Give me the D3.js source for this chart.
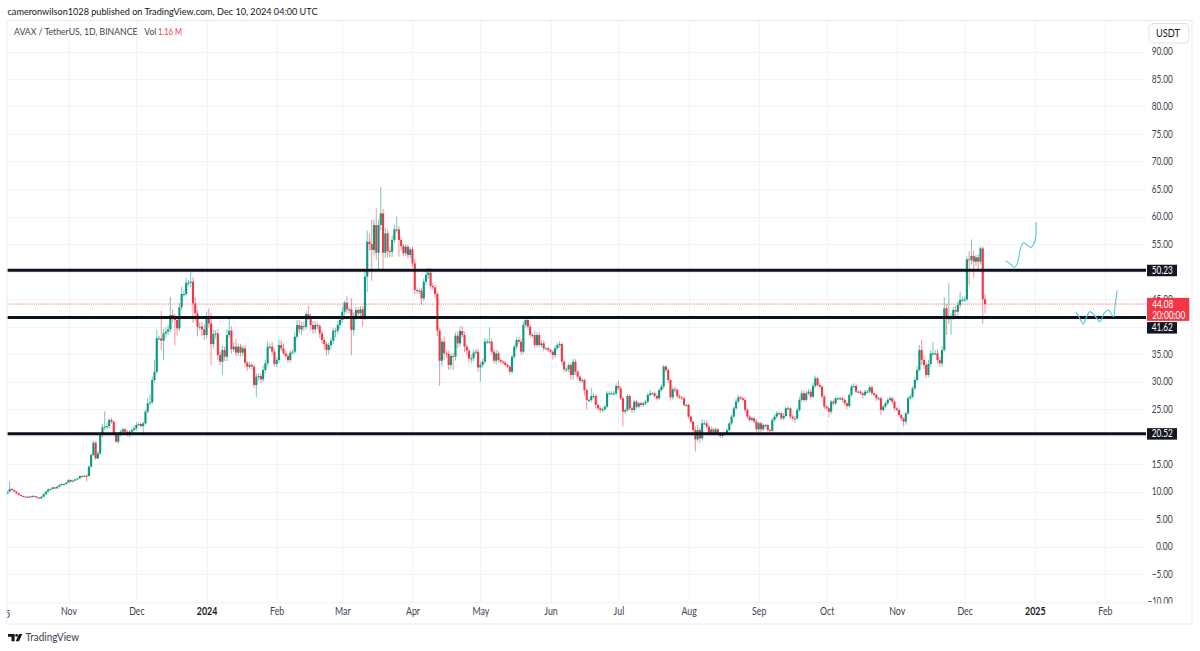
<!DOCTYPE html>
<html><head><meta charset="utf-8">
<script src="https://cdn.jsdelivr.net/npm/d3@7"></script>
<style>html,body{margin:0;padding:0;background:#fff}svg{display:block}text{font-family:"Lato","Open Sans",sans-serif}</style>
</head><body><svg id="c" width="1200" height="651"></svg>
<script>
const startDate = "2023-10-05";
const closes = [
9.97,10.45,10.27,9.97,9.66,9.36,9.18,9.06,9.0,9.06,
9.0,9.18,9.06,8.87,8.75,9.06,9.54,9.97,10.39,10.45,
10.75,10.57,10.87,11.18,11.36,11.36,11.6,12.09,11.79,11.97,
12.21,12.39,12.81,12.69,12.87,12.81,14.51,16.63,18.87,16.03,
16.93,20.27,21.66,21.78,21.9,23.0,22.69,20.57,19.06,20.39,
20.87,21.3,20.87,20.45,20.87,21.18,21.48,22.09,22.27,21.9,
22.39,24.51,26.03,26.21,30.27,31.78,37.84,37.84,37.42,38.75,
39.06,39.48,42.09,41.48,41.18,39.66,43.48,45.9,45.9,47.97,
47.97,48.15,44.21,42.39,39.97,39.97,39.48,38.45,41.9,40.57,
36.81,38.63,38.75,34.81,33.6,35.72,34.51,38.45,39.24,35.85,
36.33,35.24,36.33,35.24,36.03,33.42,32.69,33.0,32.69,29.36,
30.87,30.99,30.39,32.09,33.3,36.33,36.33,35.42,33.18,33.9,
36.63,36.03,35.12,34.63,33.9,35.24,35.42,38.15,40.27,39.48,
40.09,39.97,42.27,41.78,40.27,39.48,40.27,40.09,38.75,37.54,
36.81,35.72,36.63,37.42,39.24,39.24,40.27,41.18,42.69,44.33,
43.12,43.12,39.36,41.78,43.0,42.39,43.12,41.78,49.06,55.42,
55.0,53.9,58.45,53.42,58.45,60.57,53.42,56.93,53.72,53.6,
55.72,57.66,57.66,55.72,54.63,53.3,54.51,53.0,54.03,51.48,
46.63,46.51,46.51,45.12,48.15,49.36,49.78,47.36,47.12,45.9,
39.24,33.78,37.24,35.12,35.0,33.0,34.63,34.51,38.33,36.93,
39.18,38.45,36.33,35.6,34.21,34.21,35.24,35.42,32.57,33.0,
33.6,37.24,37.24,37.24,35.42,33.78,35.12,33.9,33.6,33.42,
33.0,32.69,31.78,34.51,36.33,37.54,37.24,35.42,40.27,41.18,
39.97,38.45,38.45,36.63,38.45,36.63,36.93,36.03,36.03,35.72,
35.42,34.81,36.03,36.63,36.81,33.6,32.21,32.21,33.0,31.18,
33.6,31.79,30.88,30.15,30.27,28.45,26.64,26.64,27.36,27.36,
25.73,25.12,24.82,24.94,25.42,27.85,27.85,27.85,27.85,29.18,
28.76,26.94,24.52,24.82,27.36,25.12,24.82,26.33,25.42,26.03,
25.73,26.03,26.33,27.55,27.85,27.85,27.36,26.94,28.45,29.06,
32.7,32.09,30.27,27.12,28.58,28.45,27.36,27.12,26.94,25.73,
25.73,23.61,22.7,21.18,19.48,21.18,19.67,22.39,22.39,21.79,
20.58,21.3,20.58,21.3,20.58,20.09,20.45,20.58,21.18,22.39,
23.61,25.12,26.33,27.12,26.94,26.64,24.82,23.61,23.0,23.3,
22.7,21.3,22.39,21.3,22.09,22.09,21.18,21.06,23.0,23.61,
24.21,24.21,23.3,23.73,25.12,25.12,23.61,23.3,23.3,24.82,
26.64,27.85,26.64,27.85,28.15,27.24,29.18,30.58,29.36,29.06,
27.24,25.42,25.12,24.52,26.33,26.03,26.94,26.94,26.94,26.64,
26.03,25.55,27.55,29.06,29.18,28.15,28.15,27.85,27.55,28.15,
28.15,28.94,27.85,27.55,26.94,26.94,24.82,25.43,26.03,26.64,
26.94,26.33,25.12,24.82,23.91,23.3,22.7,24.21,26.94,27.24,
28.76,30.28,32.09,35.73,33.91,33.0,31.18,33.18,35.12,35.12,
35.12,33.91,33.3,35.73,43.3,41.48,41.48,41.79,43.0,42.7,
43.91,44.82,44.82,44.94,52.21,52.09,52.82,51.79,52.57,51.79,
54.2,44.94,44.08];
const firstOpen = 9.6;
const upperWick = [
.2,1.35,.2,.1,.1,.1,.1,.1,.1,.1,
.1,.2,.1,.1,.1,.1,.1,.1,.2,.1,
.1,.1,.1,.2,.1,.1,.1,.2,.1,.2,
.1,.1,.1,.2,.1,.2,.2,.3,.4,.3,
.4,.5,.6,2.8,.6,.3,.4,.2,.3,.3,
.3,.3,.2,.3,.3,.4,.5,.5,.3,.3,
.3,.4,1.0,1.5,.6,2.2,1.6,.5,5.0,.8,
.8,.8,3.3,1.0,.8,.6,.8,1.3,.7,.9,
.5,1.85,.8,1.1,.6,.8,.8,.9,.8,1.4,
2.0,.8,.6,.8,.6,.8,.6,1.0,2.6,.8,
.8,1.4,.6,.5,.5,.5,.3,.6,.4,.4,
.6,.5,.5,.8,.7,1.0,.6,.9,.6,.5,
1.0,.8,.9,.5,.4,.4,.4,.8,.9,.9,
.8,.8,.5,1.5,.6,.7,.7,.5,.4,.6,
.5,.4,.4,.5,.6,.5,.8,.8,.9,.4,
1.2,.5,2.0,.8,.6,.5,.6,.6,1.2,2.0,
1.5,4.4,1.0,3.05,1.0,4.8,.8,1.0,.6,.8,
.8,.8,2.3,.6,.6,.4,.5,.4,.4,.4,
.8,.5,.4,.5,.6,.6,.9,.8,.5,.5,
.5,.5,.6,1.0,.6,.6,.6,.6,.6,.7,
.8,.9,.6,.4,.4,.6,.5,.5,.5,.6,
.5,.6,.5,2.6,.6,.5,.7,.4,.4,.3,
.3,.3,.3,.3,.4,.5,.5,.5,.6,.6,
.5,.4,.4,.8,.5,.5,.5,.5,.3,.3,
.3,.3,.4,.4,.5,.3,.4,.4,.4,.4,
.5,.5,.3,.3,.4,.3,.3,.3,1.5,.6,
.3,.3,.3,.3,.4,.4,.4,.4,.4,.5,
1.0,.3,.3,.3,.4,.3,.3,.4,.3,.3,
.3,.3,.3,.4,.6,.3,.3,.4,.4,.4,
.3,.3,.3,.3,.5,.5,.3,.3,.2,.3,
.2,.2,.2,.2,.6,.9,.5,.8,.5,.5,
.3,.5,.3,.4,.2,.2,.2,.2,.3,.3,
.4,.4,.5,.5,.3,.3,.4,.3,.3,.3,
.3,.4,.3,.3,.3,.2,.2,.3,.4,.4,
.4,.3,.3,.5,.3,.4,.3,.3,.4,.4,
.6,.6,.5,.4,.5,.5,.6,.5,.3,.3,
.3,.3,.3,.3,.3,.4,.3,.3,.3,.3,
.3,.2,.4,.4,.5,.3,.3,.3,.3,.3,
.3,.4,.3,.3,.3,.3,.3,.3,.3,.4,
.4,.3,.2,.3,.3,.2,.2,.3,.4,.4,
.4,.5,.6,.9,1.9,.8,.6,.7,.6,2.1,
.6,.8,.6,.7,2.0,.8,6.4,.6,.6,.7,
.7,1.5,.6,.5,.5,1.5,3.0,1.0,.4,.6,
.3,.3,1.0];
const lowerWick = [
.1,.1,.1,.1,.1,.1,.1,.1,.1,.1,
.1,.1,.1,.1,.1,.1,.1,.1,.1,.2,
.1,.1,.1,.1,.1,.2,.2,.1,.1,.1,
.1,.1,.1,.1,.1,1.0,.1,.2,.2,.3,
.2,.3,.5,.5,.4,.5,.3,.4,.2,.4,
.3,.3,.5,.4,.6,.2,.2,.3,.2,.3,
1.3,.2,.3,.4,.3,.5,.3,.3,1.7,3.5,
.8,.6,.5,.8,4.6,1.3,.5,.5,.5,.4,
.6,.8,3.6,1.4,1.8,.7,1.2,.9,.6,.8,
3.8,.8,.8,.9,.6,2.4,.8,.8,.5,.8,
.5,.6,.5,.7,.6,.7,.8,.4,.5,.5,
2.2,.7,.6,.5,.6,.4,.5,.6,.5,.6,
.5,.5,.4,.4,.5,.4,.3,.4,.5,.7,
1.0,.8,.5,.6,1.0,.8,.7,.6,.8,.7,
1.0,1.0,.8,.8,.6,1.2,.6,.6,.5,.7,
.8,.8,4.6,1.0,.6,.6,.6,1.8,.6,2.8,
1.2,5.6,1.0,1.3,3.3,1.0,3.0,1.0,1.2,1.0,
1.0,.5,.6,3.0,.8,.5,.5,.6,.5,.6,
.8,.5,.6,1.2,.5,.6,.7,.6,.5,.8,
1.0,4.6,1.0,1.2,.8,.9,.8,2.4,.7,.9,
.6,.5,1.0,.8,.7,.9,.5,.4,.8,2.6,
.5,.4,.4,.5,.5,.5,.7,.4,.4,.3,
.3,.3,.5,.4,.4,.5,.4,.6,.4,.4,
.5,.5,.5,.5,.4,.4,.4,.4,.3,.4,
.4,.8,.5,.4,.5,.7,.5,.5,.6,.9,
.8,.6,.5,.4,.4,1.0,1.7,.4,.4,.5,
.7,.4,.5,.4,.3,.3,.3,.3,.4,.3,
.3,.3,2.7,.5,.4,.4,.5,.4,.3,.3,
.3,.3,.3,.3,.3,.3,.3,.4,.3,.3,
.4,.4,.5,.6,.4,.4,.5,.3,.3,.3,
.3,.4,.4,.6,2.2,.4,.9,.4,.3,.4,
.3,.3,.3,.3,.4,.3,.4,.3,.2,.2,
.3,.2,.2,.2,.3,.3,.5,.4,.4,.3,
.3,.4,.5,.5,.3,.5,.3,.7,.3,.3,
.3,.3,.3,.3,.3,.3,.4,.5,.8,.3,
.3,.3,.4,.3,.3,.5,.3,.3,.3,.3,
.3,.5,.4,1.0,.5,.4,.3,.3,.3,.4,
.4,.6,.3,.3,.3,.3,.3,.3,.7,.3,
.3,.3,.4,.3,.5,.4,.9,.3,.3,.3,
.3,.4,.4,.3,.3,.5,.9,.6,.3,.3,
.3,.3,.3,.3,.9,.7,.6,.4,.5,.4,
.4,.7,.6,.6,.3,3.0,1.0,3.0,.6,1.2,
.8,.5,.3,.4,.3,4.6,.8,3.0,.8,1.8,
.5,4.4,1.7];
const priceTicks = [90,85,80,75,70,65,60,55,50,45,40,35,30,25,20,15,10,5,0,-5,-10];
const hiddenPriceLabels = [50,40,20]; // covered by the level tags in the reference
const timeTickDates = ["2023-11-01","2023-12-01","2024-01-01","2024-02-01","2024-03-01","2024-04-01","2024-05-01","2024-06-01","2024-07-01","2024-08-01","2024-09-01","2024-10-01","2024-11-01","2024-12-01","2025-01-01","2025-02-01"];
const timeTickLabels = ["Nov","Dec","2024","Feb","Mar","Apr","May","Jun","Jul","Aug","Sep","Oct","Nov","Dec","2025","Feb"];
const levels = [50.23,41.62,20.52];
const lastPrice = 44.08;
const sketchA = {days:[441.1,443,444.9,446.3,447.5,448.9,450.7,452.2,453.7,454.4,454.6],
                 prices:[51.97,51.48,50.76,51.48,53.91,55.24,54.82,54.39,55.12,56.33,59]};
const sketchB = {days:[472.2,473.9,475.4,476.6,478.4,480.6,482.8,484.6,486.5,488.7,489.5,490.4],
                 prices:[42.7,41.48,40.45,41.48,42.7,41.91,40.88,42.39,43,41.79,43.91,46.51]};

const GREEN="#089981", RED="#f23645", GRID="#f0f3fa", BORDER="#e8eaf3", INK="#131722", LABEL="#3c4150";
const L=7.4, R=1146, T=21, B=602.5, FR=1192, FB=624;
const DAY=864e5, t0=Date.parse(startDate+"T00:00:00Z");
const date=i=>new Date(t0+i*DAY);
const x=d3.scaleUtc().domain([date(0),date(503.2)]).range([L,L+503.2*2.263]);
const y=d3.scaleLinear().domain([-10,90]).range([601.5,51.5]);
// fit a text to the width it has in the reference, keeping its height
const fit=(sel,w)=>sel.attr("textLength",w).attr("lengthAdjust","spacingAndGlyphs");
const numW=s=>s.length*4.2;

const candles=closes.map((c,i)=>{const o=i?closes[i-1]:firstOpen;
  return {i,o,c,h:Math.max(o,c)+upperWick[i],l:Math.min(o,c)-lowerWick[i]};});
const svg=d3.select("#c");
const defs=svg.append("defs");
defs.append("clipPath").attr("id","plot").append("rect").attr("x",L).attr("y",T).attr("width",R-L).attr("height",B-T);
defs.append("clipPath").attr("id","paxis").append("rect").attr("x",R).attr("y",T).attr("width",FR-R).attr("height",B-T+1);
defs.append("clipPath").attr("id","taxis").append("rect").attr("x",L).attr("y",B).attr("width",R-L).attr("height",FB-B);

svg.append("rect").attr("x",L-.5).attr("y",T-.5).attr("width",FR-L+.5).attr("height",FB-T+.5).attr("fill","none").attr("stroke",BORDER);
svg.append("line").attr("x1",L).attr("x2",R).attr("y1",B+.5).attr("y2",B+.5).attr("stroke",GRID);

const plot=svg.append("g").attr("clip-path","url(#plot)");
const tDates=timeTickDates.map(d=>new Date(d+"T00:00:00Z"));
plot.selectAll("line.gv").data(tDates).join("line").attr("class","gv")
  .attr("x1",d=>Math.round(x(d))+.5).attr("x2",d=>Math.round(x(d))+.5).attr("y1",T).attr("y2",B).attr("stroke",GRID);
plot.selectAll("line.gh").data(priceTicks).join("line").attr("class","gh")
  .attr("y1",d=>Math.round(y(d))+.5).attr("y2",d=>Math.round(y(d))+.5).attr("x1",L).attr("x2",R).attr("stroke",GRID);

const col=d=>d.c>=d.o?GREEN:RED;
plot.selectAll("line.w").data(candles).join("line").attr("class","w")
  .attr("x1",d=>x(date(d.i))).attr("x2",d=>x(date(d.i))).attr("y1",d=>y(d.h)).attr("y2",d=>y(d.l))
  .attr("stroke",col).attr("stroke-width",1).attr("stroke-opacity",.55);
plot.selectAll("rect.b").data(candles).join("rect").attr("class","b")
  .attr("x",d=>x(date(d.i))-1.05).attr("width",2.1)
  .attr("y",d=>y(Math.max(d.o,d.c))).attr("height",d=>Math.max(1,Math.abs(y(d.o)-y(d.c))))
  .attr("fill",col);

plot.append("line").attr("x1",L).attr("x2",R).attr("y1",y(lastPrice)).attr("y2",y(lastPrice))
  .attr("stroke",RED).attr("stroke-width",.8).attr("stroke-dasharray","1 1.2");
plot.selectAll("line.lv").data(levels).join("line").attr("class","lv")
  .attr("x1",L).attr("x2",R).attr("y1",d=>y(d)).attr("y2",d=>y(d)).attr("stroke","#0c111b").attr("stroke-width",3);
const sk=d3.line().x(p=>x(date(p[0]))).y(p=>y(p[1])).curve(d3.curveCatmullRom.alpha(.5));
[sketchA,sketchB].forEach(s=>plot.append("path").attr("d",sk(s.days.map((d,k)=>[d,s.prices[k]])))
  .attr("fill","none").attr("stroke","#4fc9e0").attr("stroke-width",1.1));

// price axis
const pfmt=d=>(d<0?"\u2212":"")+Math.abs(d).toFixed(2);
const pa=svg.append("g").attr("clip-path","url(#paxis)").append("g").attr("transform","translate(1172.7,0)")
  .call(d3.axisLeft(y).tickValues(priceTicks.filter(v=>!hiddenPriceLabels.includes(v))).tickSize(0).tickPadding(0).tickFormat(pfmt));
pa.select(".domain").remove();
pa.selectAll("text").attr("font-size",10.5).attr("fill",LABEL).attr("font-family","Lato").attr("dy",".33em")
  .each(function(d){fit(d3.select(this),numW(pfmt(d)));});

// time axis
const ta=svg.append("g").attr("transform",`translate(0,${B+5})`)
  .call(d3.axisBottom(x).tickValues(tDates).tickSize(0).tickPadding(0).tickFormat((d,i)=>timeTickLabels[i]));
ta.select(".domain").remove();
ta.selectAll("text").attr("font-size",10.5).attr("font-family","Lato")
  .attr("font-weight",(d,i)=>/^\d/.test(timeTickLabels[i])?700:400).attr("fill",(d,i)=>/^\d/.test(timeTickLabels[i])?INK:LABEL)
  .each(function(){const s=d3.select(this);fit(s,this.getComputedTextLength()*.84);});
svg.append("g").attr("clip-path","url(#taxis)").append("text").attr("x",L).attr("y",617.5).attr("text-anchor","middle")
  .attr("font-size",10.5).attr("fill",LABEL).text("5");

// price tags
const lb=svg.append("g");
levels.forEach(v=>{
  const cy=v===41.62?y(v)+10:y(v);
  lb.append("rect").attr("x",1147).attr("y",cy-5.5).attr("width",30).attr("height",11.5).attr("fill","#131722");
  fit(lb.append("text").attr("x",1172.7).attr("y",cy+3.6).attr("text-anchor","end").attr("font-size",10.5).attr("fill","#fff").text(v.toFixed(2)),21);
});
lb.append("rect").attr("x",1147).attr("y",y(lastPrice)-6.2).attr("width",42.3).attr("height",23).attr("fill",RED);
fit(lb.append("text").attr("x",1152.2).attr("y",y(lastPrice)+4).attr("font-size",10.5).attr("fill","#fff").text(lastPrice.toFixed(2)),21);
fit(lb.append("text").attr("x",1152.2).attr("y",y(lastPrice)+15).attr("font-size",10.5).attr("fill","#fff").text("20:00:00"),33);

// currency box
svg.append("rect").attr("x",1149).attr("y",23.5).attr("width",40).attr("height",19.5).attr("rx",4).attr("fill","#fff").attr("stroke","#e0e3eb");
fit(svg.append("text").attr("x",1156).attr("y",37).attr("font-size",11).attr("fill",INK).text("USDT"),24);

// header and legend
fit(svg.append("text").attr("x",7.5).attr("y",14.5).attr("font-size",10.3).attr("fill",INK).text("cameronwilson1028 published on TradingView.com, Dec 10, 2024 04:00 UTC"),310);
fit(svg.append("text").attr("x",14).attr("y",35).attr("font-size",10.3).attr("fill",LABEL).text("AVAX / TetherUS, 1D, BINANCE"),123.5);
fit(svg.append("text").attr("x",144.3).attr("y",35).attr("font-size",10.3).attr("fill",LABEL).text("Vol"),12);
fit(svg.append("text").attr("x",158).attr("y",35).attr("font-size",10.3).attr("fill",RED).text("1.16 M"),24);

// logo
const logo=svg.append("g").attr("fill",INK);
logo.append("path").attr("d","M8 634h6.6v7.3h-3.1v-4.6H8z");
logo.append("circle").attr("cx",16.6).attr("cy",635.4).attr("r",1.4);
logo.append("path").attr("d","M19 634h3.3l-3.3 7.3h-3.3z");
fit(svg.append("text").attr("x",25.5).attr("y",641).attr("font-size",11).attr("fill","#3c4150").text("TradingView"),53.5);
</script></body></html>
